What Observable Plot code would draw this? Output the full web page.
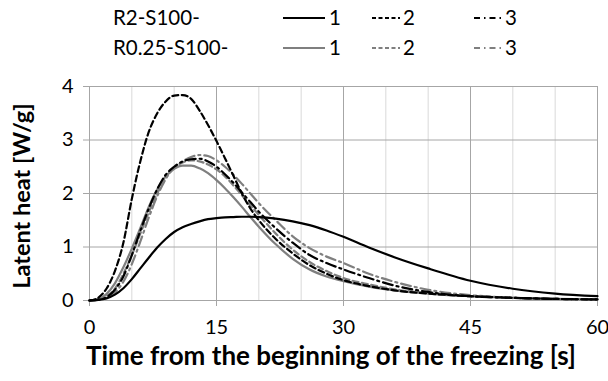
<!DOCTYPE html>
<html><head><meta charset="utf-8">
<script src="https://cdn.jsdelivr.net/npm/d3@7"></script>
<script src="https://cdn.jsdelivr.net/npm/@observablehq/plot@0.6"></script>
<style>
body{margin:0;background:#fff;}
#wrap{position:relative;width:608px;height:381px;overflow:hidden;font-family:Lato,"Open Sans",sans-serif;color:#000;}
</style>
</head><body><div id="wrap"></div>
<script>
// time [s]
const time = [0,1,2,3,4,5,6,7,8,9,10,11,12,13,14,15,16,17,18,19,20,22,24,26,28,30,33,36,40,45,50,55,60];
// latent heat [W/g]
const r2_1 = [0,0.01,0.04,0.11,0.23,0.4,0.6,0.8,0.99,1.15,1.28,1.37,1.43,1.48,1.52,1.54,1.555,1.56,1.565,1.565,1.56,1.53,1.48,1.41,1.31,1.19,0.99,0.81,0.6,0.37,0.22,0.13,0.08];
const r2_2 = [0,0.05,0.22,0.55,1.08,1.9,2.6,3.15,3.5,3.72,3.83,3.84,3.77,3.55,3.28,2.98,2.66,2.33,2.0,1.72,1.5,1.15,0.88,0.66,0.5,0.38,0.27,0.19,0.13,0.08,0.05,0.03,0.02];
const r2_3 = [0,0.01,0.06,0.2,0.45,0.85,1.3,1.72,2.08,2.35,2.5,2.6,2.64,2.65,2.6,2.5,2.36,2.2,2.02,1.84,1.66,1.35,1.08,0.85,0.7,0.58,0.42,0.28,0.16,0.08,0.05,0.03,0.02];
const r025_1 = [0,0.02,0.12,0.32,0.62,0.97,1.35,1.75,2.08,2.32,2.46,2.52,2.52,2.47,2.38,2.25,2.1,1.93,1.75,1.56,1.38,1.05,0.78,0.58,0.45,0.36,0.26,0.19,0.13,0.08,0.05,0.03,0.02];
const r025_2 = [0,0.01,0.08,0.22,0.5,0.85,1.25,1.65,2.0,2.3,2.48,2.58,2.62,2.6,2.54,2.45,2.32,2.15,1.97,1.78,1.6,1.25,0.95,0.72,0.55,0.42,0.3,0.21,0.14,0.08,0.05,0.03,0.02];
const r025_3 = [0,0.01,0.05,0.15,0.35,0.68,1.1,1.55,1.95,2.27,2.48,2.6,2.68,2.72,2.7,2.62,2.5,2.35,2.18,2.0,1.82,1.5,1.2,0.98,0.82,0.7,0.5,0.35,0.2,0.1,0.05,0.03,0.02];

const groupLabels = ["R2-S100-", "R0.25-S100-"];
const runLabels = ["1", "2", "3"];
const xTicks = [0, 15, 30, 45, 60];
const xMinor = [5, 10, 20, 25, 35, 40, 50, 55];
const yTicks = [0, 1, 2, 3, 4];
const xTitle = "Time from the beginning of the freezing [s]";
const yTitle = "Latent heat [W/g]";

const colors = ["#000000", "#7f7f7f"];
const dashes = [null, "6,3.5", "10,4,2,4"];
const legendDashes = [null, "4,2.5", "6,4,1.5,4"];

const seriesVals = [[r2_1, r2_2, r2_3], [r025_1, r025_2, r025_3]];
const toRows = vals => time.map((t, i) => ({t, v: vals[i]}));

const lineMarks = [];
[1, 0].forEach(g => {
  seriesVals[g].forEach((vals, k) => {
    lineMarks.push(Plot.line(toRows(vals), {
      x: "t", y: "v", stroke: colors[g], strokeWidth: 2.2,
      strokeDasharray: dashes[k] || undefined, curve: "monotone-x"
    }));
  });
});

const font = "Lato, 'Open Sans', sans-serif";
const chart = Plot.plot({
  width: 608, height: 381,
  marginTop: 86, marginBottom: 81, marginLeft: 89, marginRight: 11,
  x: {domain: [0, 60]},
  y: {domain: [0, 4]},
  style: {fontFamily: font, background: "transparent", color: "#000"},
  marks: [
    Plot.ruleX(xMinor, {stroke: "#d9d9d9", strokeWidth: 1}),
    Plot.ruleX(xTicks, {stroke: "#a6a6a6", strokeWidth: 1}),
    Plot.ruleY(yTicks, {stroke: "#a6a6a6", strokeWidth: 1}),
    Plot.axisX({ticks: xTicks, tickSize: 6, tickPadding: 13, fontSize: 20, label: null, stroke: "#a6a6a6", tickFormat: d => String(d)}),
    Plot.axisY({ticks: yTicks, tickSize: 6, tickPadding: 10, fontSize: 20, label: null, stroke: "#a6a6a6", tickFormat: d => String(d)}),
    ...lineMarks
  ]
});

const wrap = document.getElementById("wrap");
wrap.appendChild(chart);

const svg = d3.select(chart);
svg.append("text").attr("x", 331).attr("y", 365).attr("text-anchor", "middle")
  .attr("font-family", font).attr("font-weight", "bold").attr("font-size", 26).text(xTitle);
svg.append("text").attr("transform", "translate(30,196) rotate(-90)").attr("text-anchor", "middle")
  .attr("font-family", font).attr("font-weight", "bold").attr("font-size", 23.5).text(yTitle);

// legend
const legend = d3.create("svg").attr("width", 608).attr("height", 80)
  .style("position", "absolute").style("left", "0px").style("top", "0px");
const rowBase = [25, 55];
const sampleX = [[283, 325, 329], [372, 400, 403], [474, 501, 505]];
groupLabels.forEach((lab, g) => {
  legend.append("text").attr("x", 113).attr("y", rowBase[g]).attr("font-family", font)
    .attr("font-size", 20.5).text(lab);
  runLabels.forEach((r, k) => {
    const [x0, x1, tx] = sampleX[k];
    legend.append("line").attr("x1", x0).attr("x2", x1).attr("y1", rowBase[g] - 7).attr("y2", rowBase[g] - 7)
      .attr("stroke", colors[g]).attr("stroke-width", 2.2)
      .attr("stroke-dasharray", legendDashes[k]);
    legend.append("text").attr("x", tx).attr("y", rowBase[g]).attr("font-family", font)
      .attr("font-size", 20.5).text(r);
  });
});
wrap.appendChild(legend.node());
</script>
</body></html>
